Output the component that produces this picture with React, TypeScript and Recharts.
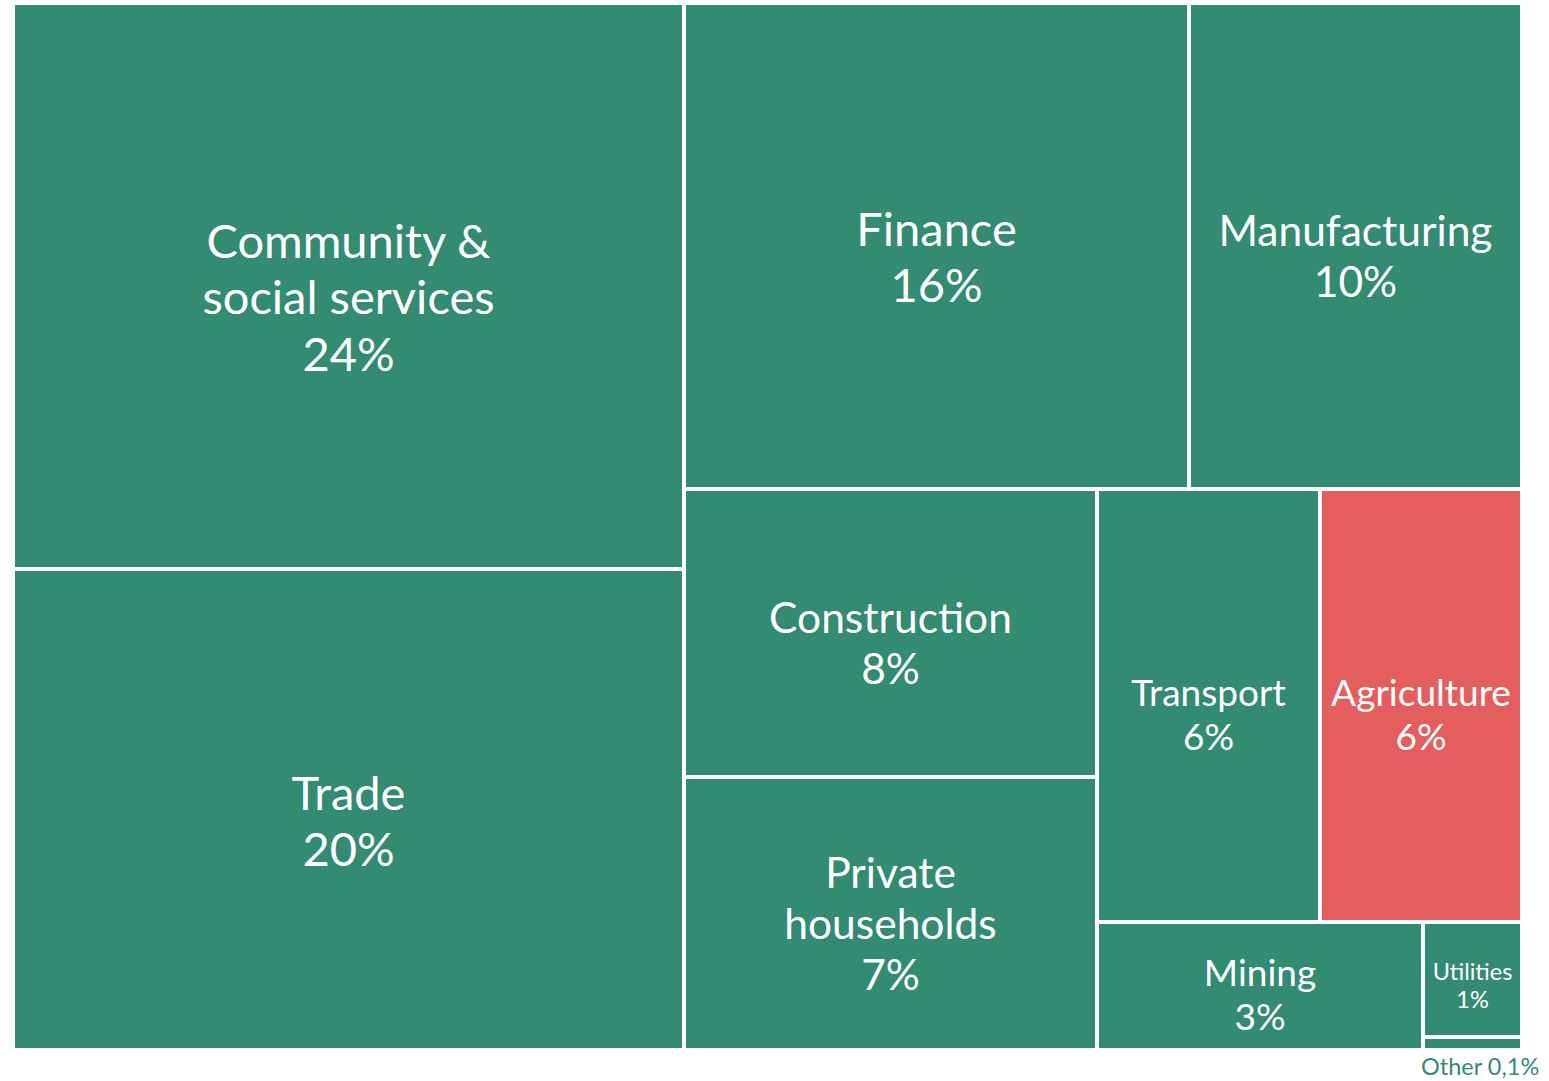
import React from 'react';
import { Treemap } from 'recharts';

// Employment share by sector (%)
const sectors = [
    'Community & social services',
    'Trade',
    'Finance',
    'Manufacturing',
    'Construction',
    'Private households',
    'Transport',
    'Agriculture',
    'Mining',
    'Utilities',
    'Other',
];
const shares = [24.03, 20.42, 15.54, 10.25, 7.52, 7.13, 6.1, 5.55, 2.64, 0.72, 0.08];
const shareLabels = ['24%', '20%', '16%', '10%', '8%', '7%', '6%', '6%', '3%', '1%', '0,1%'];

const highlighted = 'Agriculture';
const GREEN = '#338b71';
const RED = '#e45e5e';
const FONT = 'Lato, "Open Sans", sans-serif';

const data = sectors.map((name, i) => ({ name, size: shares[i], label: shareLabels[i] }));

// font size steps with the cell area, like the original labels
const fontFor = (area: number) => {
    if (area > 200000) return 47;
    if (area > 100000) return 42.5;
    if (area > 30000) return 37;
    return 23.5;
};

// one line if it fits, otherwise the most balanced two-line split
const wrap = (text: string, maxWidth: number, fs: number) => {
    if (text.length * fs * 0.52 <= maxWidth) return [text];
    const words = text.split(' ');
    if (words.length < 2) return [text];
    let best: string[] = [text];
    let bestLen = Infinity;
    for (let i = 1; i < words.length; i++) {
        const a = words.slice(0, i).join(' ');
        const b = words.slice(i).join(' ');
        const m = Math.max(a.length, b.length);
        if (m < bestLen) {
            bestLen = m;
            best = [a, b];
        }
    }
    return best;
};

const Cell = (props: any) => {
    const { x, y, width, height, depth, name, label } = props;
    if (depth !== 1) return null;
    const area = width * height;
    const fill = name === highlighted ? RED : GREEN;

    if (area < 5000) {
        // too small, label goes underneath the cell
        return (
            <g>
                <rect x={x} y={y} width={width} height={height} fill={fill} stroke="#fff" strokeWidth={4} />
                <text x={x - 2} y={y + height + 25} fill={GREEN} fontSize={23.5} fontFamily={FONT}>
                    {`${name} ${label}`}
                </text>
            </g>
        );
    }

    const fs = fontFor(area);
    const lineH = fs * 1.2;
    const lines = [...wrap(name, width * 0.9, fs), label];
    const cx = x + width / 2;
    const midY = y + height / 2 + fs * 0.25;
    const firstY = midY - ((lines.length - 1) * lineH) / 2;

    return (
        <g>
            <rect x={x} y={y} width={width} height={height} fill={fill} stroke="#fff" strokeWidth={4} />
            {lines.map((ln, i) => (
                <text
                    key={i}
                    x={cx}
                    y={firstY + i * lineH + fs * 0.35}
                    textAnchor="middle"
                    fill="#fff"
                    fontSize={fs}
                    fontFamily={FONT}
                >
                    {ln}
                </text>
            ))}
        </g>
    );
};

export default function App() {
    return (
        <div style={{ position: 'absolute', left: 13, top: 3 }}>
            <style>{'.recharts-surface { overflow: visible; }'}</style>
            <Treemap
                width={1509}
                height={1047}
                data={data}
                dataKey="size"
                nameKey="name"
                isAnimationActive={false}
                content={<Cell />}
            />
        </div>
    );
}
